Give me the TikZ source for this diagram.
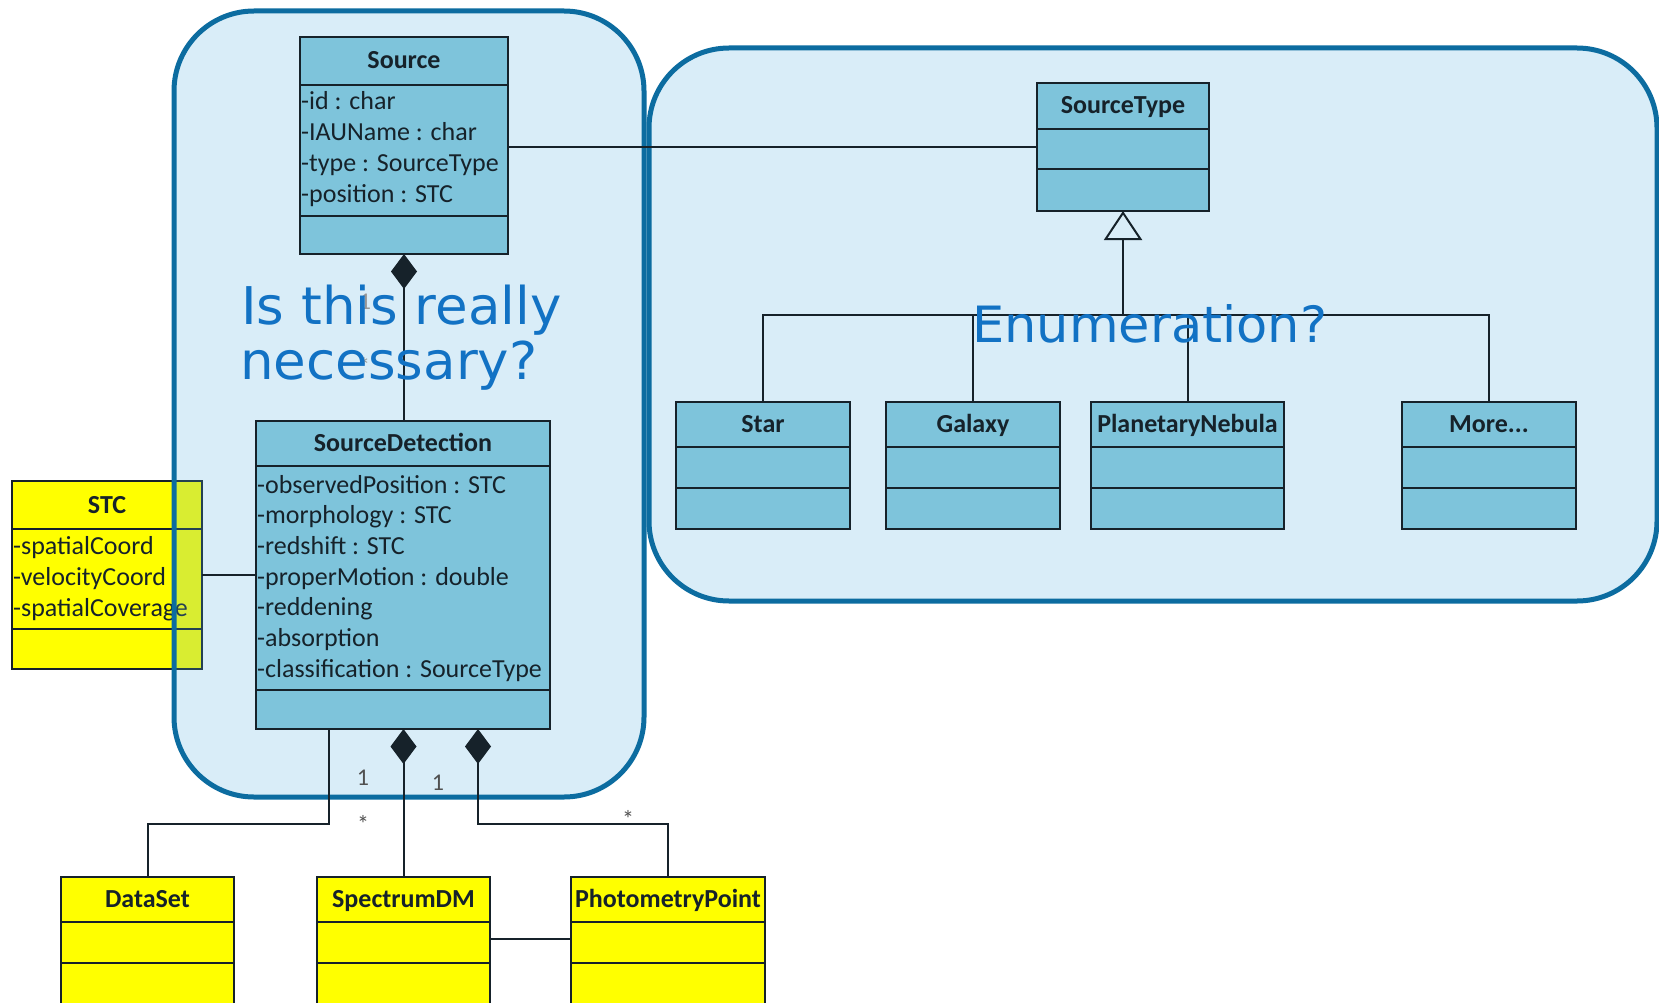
\documentclass[tikz,border=0pt]{standalone}
\usepackage{fontspec}
\setmainfont{Carlito}
\newfontfamily\notefont{DejaVu Sans}
\usetikzlibrary{arrows.meta}
\definecolor{clsfill}{RGB}{126,196,219}
\definecolor{clsyel}{RGB}{255,255,0}
\definecolor{clsline}{RGB}{22,34,42}
\definecolor{frameline}{RGB}{12,108,160}
\definecolor{framefill}{RGB}{86,177,227}
\definecolor{notecol}{RGB}{18,114,196}
\definecolor{multcol}{RGB}{80,80,80}
\tikzset{
 clsbox/.style={draw=clsline, line width=2pt, inner sep=0pt, outer sep=0pt, anchor=north west},
 clstitle/.style={font=\fontsize{26}{31}\selectfont\bfseries, text=clsline, inner sep=0pt, anchor=base},
 clsattr/.style={font=\fontsize{26}{31}\selectfont, text=clsline, inner sep=0pt, anchor=base west},
 framebox/.style={draw=frameline, line width=5pt, fill=framefill, fill opacity=0.22, rounded corners=80pt},
 conn/.style={draw=clsline, line width=2pt},
 compo/.style={conn, -{Diamond[length=35pt,width=26pt]}},
 gener/.style={conn, -{Triangle[open,length=29pt,width=38pt]}},
 mult/.style={font=\fontsize{24}{28}\selectfont, text=multcol, inner sep=0pt},
 note/.style={font=\notefont\fontsize{52}{60}\selectfont, text=notecol, inner sep=0pt, anchor=base west},
}
% name, x1, y1, x2, y2, header bottom, row bottom, fill, title
\newcommand\umlclass[9]{%
  \node[clsbox, fill=#8, minimum width={(#4-#2)*1pt}, minimum height={(#5-#3)*1pt}] (#1) at (#2,#3) {};
  \draw[clsline, line width=2pt] (#2,#6) -- (#4,#6);
  \draw[clsline, line width=2pt] (#2,#7) -- (#4,#7);
  \node[clstitle] at ({(#2+#4)/2},{(#3+#6)/2+8}) {#9};
}
\begin{document}
\begin{tikzpicture}[x=1pt,y=-1pt]
\useasboundingbox (0,0) rectangle (1659,1003);
\fill[white] (0,0) rectangle (1659,1003);

% STC (under the frame)
\umlclass{STC}{12}{481}{202}{669}{529}{629}{clsyel}{STC}
\node[clsattr] (stc1) at (13,554) {-spatialCoord};
\node[clsattr] (stc2) at (13,585) {-velocityCoord};
\node[clsattr] (stc3) at (13,616) {-spatialCoverage};

% frames
\path[framebox] (174,11) rectangle (644,797);
\path[framebox] (649,48) rectangle (1657,601);

% Source
\umlclass{Source}{300}{37}{508}{254}{85}{216}{clsfill}{Source}
\node[clsattr] (s1) at (301,110) {-id : char};
\node[clsattr] (s2) at (301,141) {-IAUName : char};
\node[clsattr] (s3) at (301,172) {-type : SourceType};
\node[clsattr] (s4) at (301,203) {-position : STC};

% SourceDetection
\umlclass{SD}{256}{421}{550}{729}{466}{690}{clsfill}{SourceDetection}
\node[clsattr] (d1) at (257,493) {-observedPosition : STC};
\node[clsattr] (d2) at (257,523) {-morphology : STC};
\node[clsattr] (d3) at (257,554) {-redshift : STC};
\node[clsattr] (d4) at (257,585) {-properMotion : double};
\node[clsattr] (d5) at (257,615) {-reddening};
\node[clsattr] (d6) at (257,646) {-absorption};
\node[clsattr] (d7) at (257,677) {-classification : SourceType};

% SourceType and subclasses
\umlclass{SourceType}{1037}{83}{1209}{211}{129}{169}{clsfill}{SourceType}
\umlclass{Star}{676}{402}{850}{529}{447}{488}{clsfill}{Star}
\umlclass{Galaxy}{886}{402}{1060}{529}{447}{488}{clsfill}{Galaxy}
\umlclass{PN}{1091}{402}{1284}{529}{447}{488}{clsfill}{PlanetaryNebula}
\umlclass{More}{1402}{402}{1576}{529}{447}{488}{clsfill}{More...}

% bottom classes
\umlclass{DataSet}{61}{877}{234}{1012}{922}{963}{clsyel}{DataSet}
\umlclass{SpectrumDM}{317}{877}{490}{1012}{922}{963}{clsyel}{SpectrumDM}
\umlclass{PP}{571}{877}{765}{1012}{922}{963}{clsyel}{PhotometryPoint}

% connectors
\draw[conn] (Source.east |- SourceType.west) -- (SourceType.west);
\draw[compo] (Source.south |- SD.north) -- (Source.south);
\draw[conn] (STC.east) -- (STC.east -| SD.west);
\draw[conn] (329,0 |- SD.south) -- (329,824) -| (DataSet.north);
\draw[compo] (SpectrumDM.north) -- (SpectrumDM.north |- SD.south);
\draw[compo] (PP.north) |- (478,824) -- (478,0 |- SD.south);
\draw[conn] (SpectrumDM.east |- 0,939) -- (PP.west |- 0,939);

\coordinate (bus) at (SourceType.south |- 0,315);
\draw[conn] (Star.north) |- (bus) -| (More.north);
\draw[conn] (Galaxy.north) -- (Galaxy.north |- bus);
\draw[conn] (PN.north) -- (PN.north |- bus);
\draw[gener] (bus) -- (SourceType.south);

% multiplicities
\node[mult, text=multcol!60] (m0a) at (365,302) {1};
\node[mult, text=multcol!60] (m0b) at (364,366) {*};
\node[mult] (m1) at (363,778) {1};
\node[mult] (m2) at (438,783) {1};
\node[mult] (m3) at (363,824) {*};
\node[mult] (m4) at (628,819) {*};

% notes
\node[note] (q1) at (241,324) {\scalebox{1.02}[1]{Is this really}};
\node[note] (q2) at (240,379) {\scalebox{1.02}[1]{necessary?}};
\node[note, font=\notefont\fontsize{50}{58}\selectfont] (q3) at (972,342) {\scalebox{1.02}[1]{Enumeration?}};
\end{tikzpicture}
\end{document}
